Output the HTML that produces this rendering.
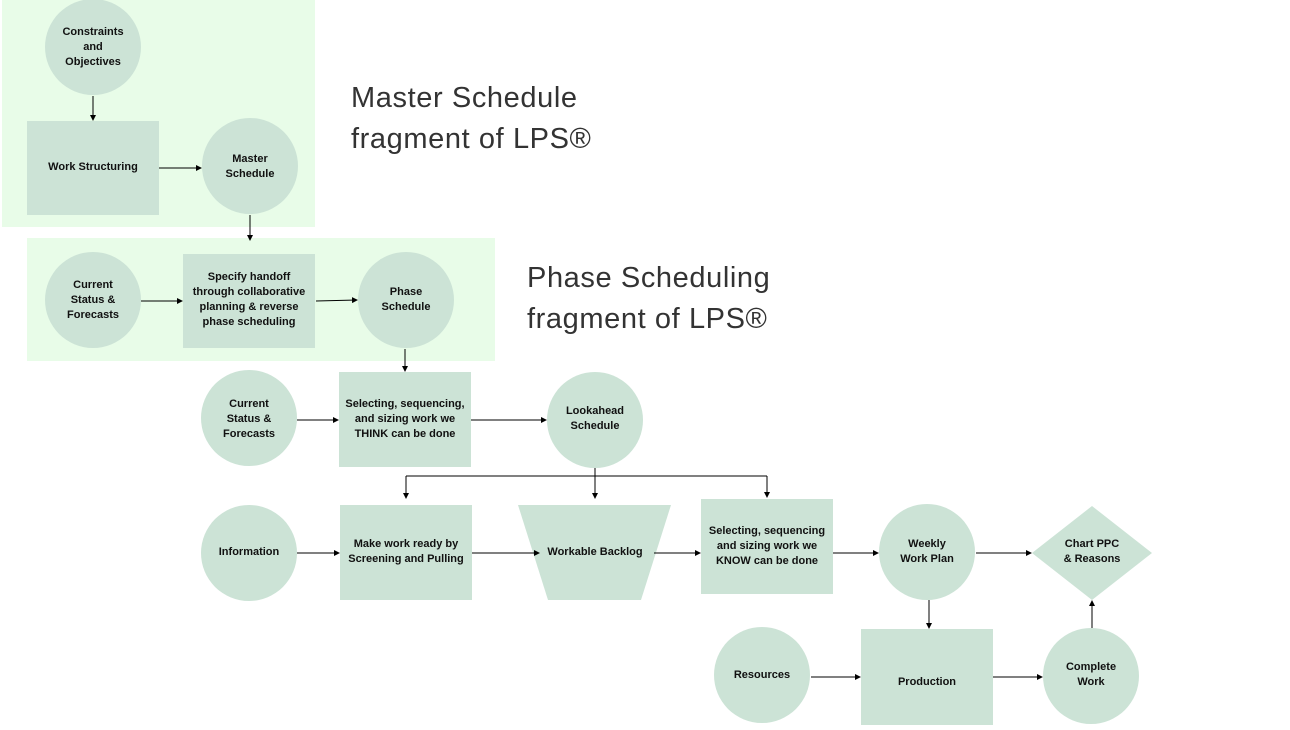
<!DOCTYPE html>
<html><head><meta charset="utf-8"><style>
body{margin:0;background:#fff;}
svg text{font-family:"Liberation Sans",sans-serif;font-weight:bold;font-size:11px;fill:#111;text-anchor:middle;}
svg text.big{font-weight:normal;font-size:29px;letter-spacing:0.6px;text-anchor:start;fill:#333;}
</style></head><body>
<svg width="1290" height="725" viewBox="0 0 1290 725" xmlns="http://www.w3.org/2000/svg">
<defs><marker id="a" markerWidth="6" markerHeight="6" refX="5" refY="3" orient="auto"><path d="M0,0 L6,3 L0,6 z" fill="#000"/></marker></defs>
<rect x="2" y="0" width="313" height="227" fill="#e8fce8"/>
<rect x="27" y="238" width="468" height="123" fill="#e8fce8"/>
<g fill="#cce3d6">
<circle cx="93" cy="47" r="48"/>
<rect x="27" y="121" width="132" height="94"/>
<circle cx="250" cy="166" r="48"/>
<circle cx="93" cy="300" r="48"/>
<rect x="183" y="254" width="132" height="94"/>
<circle cx="406" cy="300" r="48"/>
<circle cx="249" cy="418" r="48"/>
<rect x="339" y="372" width="132" height="95"/>
<circle cx="595" cy="420" r="48"/>
<circle cx="249" cy="553" r="48"/>
<rect x="340" y="505" width="132" height="95"/>
<polygon points="518,505 671,505 641,600 548,600"/>
<rect x="701" y="499" width="132" height="95"/>
<circle cx="927" cy="552" r="48"/>
<polygon points="1092,506 1152,553 1092,600 1032,553"/>
<circle cx="762" cy="675" r="48"/>
<rect x="861" y="629" width="132" height="96"/>
<circle cx="1091" cy="676" r="48"/>
</g>
<g stroke="#000" stroke-width="1" fill="none" marker-end="url(#a)">
<line x1="93" y1="96" x2="93" y2="120"/>
<line x1="159" y1="168" x2="201" y2="168"/>
<line x1="250" y1="215" x2="250" y2="240"/>
<line x1="141" y1="301" x2="182" y2="301"/>
<line x1="316" y1="301" x2="357" y2="300"/>
<line x1="405" y1="349" x2="405" y2="371"/>
<line x1="297" y1="420" x2="338" y2="420"/>
<line x1="471" y1="420" x2="546" y2="420"/>
<line x1="406" y1="476" x2="406" y2="498"/>
<line x1="595" y1="468" x2="595" y2="498"/>
<line x1="767" y1="476" x2="767" y2="497"/>
<line x1="297" y1="553" x2="339" y2="553"/>
<line x1="472" y1="553" x2="539" y2="553"/>
<line x1="654" y1="553" x2="700" y2="553"/>
<line x1="833" y1="553" x2="878" y2="553"/>
<line x1="976" y1="553" x2="1031" y2="553"/>
<line x1="929" y1="600" x2="929" y2="628"/>
<line x1="811" y1="677" x2="860" y2="677"/>
<line x1="993" y1="677" x2="1042" y2="677"/>
<line x1="1092" y1="628" x2="1092" y2="601"/>
</g>
<line x1="406" y1="476" x2="767" y2="476" stroke="#000"/>
<text x="93" y="35">Constraints</text><text x="93" y="50">and</text><text x="93" y="65">Objectives</text>
<text x="93" y="170">Work Structuring</text>
<text x="250" y="162">Master</text><text x="250" y="177">Schedule</text>
<text x="93" y="288">Current</text><text x="93" y="303">Status &amp;</text><text x="93" y="318">Forecasts</text>
<text x="249" y="280">Specify handoff</text><text x="249" y="295">through collaborative</text><text x="249" y="310">planning &amp; reverse</text><text x="249" y="325">phase scheduling</text>
<text x="406" y="295">Phase</text><text x="406" y="310">Schedule</text>
<text x="249" y="407">Current</text><text x="249" y="422">Status &amp;</text><text x="249" y="437">Forecasts</text>
<text x="405" y="407">Selecting, sequencing,</text><text x="405" y="422">and sizing work we</text><text x="405" y="437">THINK can be done</text>
<text x="595" y="414">Lookahead</text><text x="595" y="429">Schedule</text>
<text x="249" y="555">Information</text>
<text x="406" y="547">Make work ready by</text><text x="406" y="562">Screening and Pulling</text>
<text x="595" y="555">Workable Backlog</text>
<text x="767" y="534">Selecting, sequencing</text><text x="767" y="549">and sizing work we</text><text x="767" y="564">KNOW can be done</text>
<text x="927" y="547">Weekly</text><text x="927" y="562">Work Plan</text>
<text x="1092" y="547">Chart PPC</text><text x="1092" y="562">&amp; Reasons</text>
<text x="762" y="678">Resources</text>
<text x="927" y="685">Production</text>
<text x="1091" y="670">Complete</text><text x="1091" y="685">Work</text>
<text class="big" x="351" y="107">Master Schedule</text>
<text class="big" x="351" y="148">fragment of LPS®</text>
<text class="big" x="527" y="287">Phase Scheduling</text>
<text class="big" x="527" y="328">fragment of LPS®</text>
</svg>
</body></html>
